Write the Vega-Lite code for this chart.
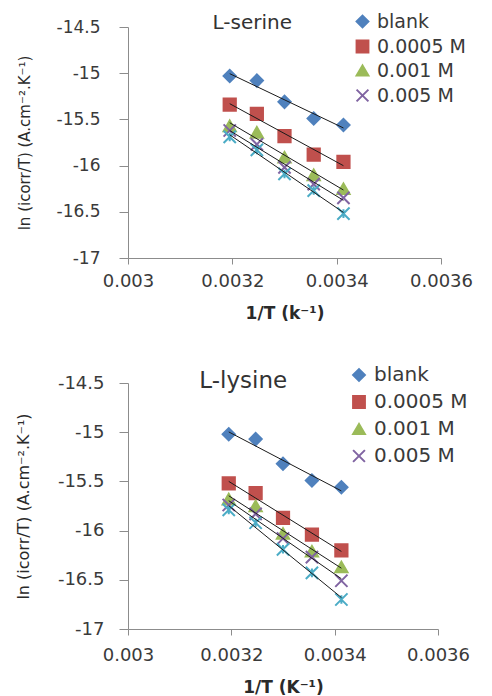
{
  "$schema": "https://vega.github.io/schema/vega-lite/v6.json",
  "padding": {"top": 12, "left": 14, "right": 5, "bottom": 0},
  "background": "white",
  "spacing": 44,
  "datasets": {
    "serine": [
      {"x": 0.003195, "y": -15.03, "s": "blank"},
      {"x": 0.003247, "y": -15.08, "s": "blank"},
      {"x": 0.0033, "y": -15.31, "s": "blank"},
      {"x": 0.003356, "y": -15.49, "s": "blank"},
      {"x": 0.003413, "y": -15.56, "s": "blank"},
      {"x": 0.003195, "y": -15.34, "s": "0.0005 M"},
      {"x": 0.003247, "y": -15.44, "s": "0.0005 M"},
      {"x": 0.0033, "y": -15.68, "s": "0.0005 M"},
      {"x": 0.003356, "y": -15.88, "s": "0.0005 M"},
      {"x": 0.003413, "y": -15.96, "s": "0.0005 M"},
      {"x": 0.003195, "y": -15.57, "s": "0.001 M"},
      {"x": 0.003247, "y": -15.64, "s": "0.001 M"},
      {"x": 0.0033, "y": -15.91, "s": "0.001 M"},
      {"x": 0.003356, "y": -16.1, "s": "0.001 M"},
      {"x": 0.003413, "y": -16.25, "s": "0.001 M"},
      {"x": 0.003195, "y": -15.62, "s": "0.005 M"},
      {"x": 0.003247, "y": -15.77, "s": "0.005 M"},
      {"x": 0.0033, "y": -16.02, "s": "0.005 M"},
      {"x": 0.003356, "y": -16.2, "s": "0.005 M"},
      {"x": 0.003413, "y": -16.35, "s": "0.005 M"},
      {"x": 0.003195, "y": -15.69, "s": "0.01 M"},
      {"x": 0.003247, "y": -15.83, "s": "0.01 M"},
      {"x": 0.0033, "y": -16.09, "s": "0.01 M"},
      {"x": 0.003356, "y": -16.27, "s": "0.01 M"},
      {"x": 0.003413, "y": -16.52, "s": "0.01 M"}
    ],
    "lysine": [
      {"x": 0.003195, "y": -15.02, "s": "blank"},
      {"x": 0.003247, "y": -15.07, "s": "blank"},
      {"x": 0.0033, "y": -15.32, "s": "blank"},
      {"x": 0.003356, "y": -15.49, "s": "blank"},
      {"x": 0.003413, "y": -15.56, "s": "blank"},
      {"x": 0.003195, "y": -15.52, "s": "0.0005 M"},
      {"x": 0.003247, "y": -15.62, "s": "0.0005 M"},
      {"x": 0.0033, "y": -15.87, "s": "0.0005 M"},
      {"x": 0.003356, "y": -16.04, "s": "0.0005 M"},
      {"x": 0.003413, "y": -16.2, "s": "0.0005 M"},
      {"x": 0.003195, "y": -15.68, "s": "0.001 M"},
      {"x": 0.003247, "y": -15.75, "s": "0.001 M"},
      {"x": 0.0033, "y": -16.03, "s": "0.001 M"},
      {"x": 0.003356, "y": -16.21, "s": "0.001 M"},
      {"x": 0.003413, "y": -16.37, "s": "0.001 M"},
      {"x": 0.003195, "y": -15.74, "s": "0.005 M"},
      {"x": 0.003247, "y": -15.83, "s": "0.005 M"},
      {"x": 0.0033, "y": -16.08, "s": "0.005 M"},
      {"x": 0.003356, "y": -16.27, "s": "0.005 M"},
      {"x": 0.003413, "y": -16.51, "s": "0.005 M"},
      {"x": 0.003195, "y": -15.79, "s": "0.01 M"},
      {"x": 0.003247, "y": -15.92, "s": "0.01 M"},
      {"x": 0.0033, "y": -16.19, "s": "0.01 M"},
      {"x": 0.003356, "y": -16.43, "s": "0.01 M"},
      {"x": 0.003413, "y": -16.7, "s": "0.01 M"}
    ]
  },
  "vconcat": [
    {
      "width": 313,
      "height": 231,
      "layer": [
        {
          "data": {"name": "serine"},
          "mark": {"type": "point", "filled": true, "size": 150, "strokeWidth": 2, "opacity": 1},
          "encoding": {
            "x": {"field": "x", "type": "quantitative", "title": "1/T (k⁻¹)",
              "scale": {"domain": [0.003, 0.0036], "nice": false, "zero": false},
              "axis": {"values": [0.003, 0.0032, 0.0034, 0.0036], "labelExpr": "toString(datum.value)", "grid": false, "tickSize": 6, "labelPadding": 8, "labelFontSize": 18, "titleFontSize": 17, "titleFontWeight": "bold", "titleY": 60, "titleBaseline": "alphabetic"}},
            "y": {"field": "y", "type": "quantitative", "title": "ln (icorr/T) (A.cm⁻².K⁻¹)",
              "scale": {"domain": [-17, -14.5], "nice": false, "zero": false},
              "axis": {"values": [-17, -16.5, -16, -15.5, -15, -14.5], "labelExpr": "toString(datum.value)", "grid": false, "tickSize": 9, "labelPadding": 19, "labelFontSize": 17, "titleFontSize": 15, "titleFontWeight": "normal", "titleX": -104, "titleBaseline": "middle"}},
            "shape": {"field": "s", "type": "nominal",
              "scale": {"domain": ["blank", "0.0005 M", "0.001 M", "0.005 M", "0.01 M"], "range": ["diamond", "square", "triangle-up", "M-1,-1L1,1M1,-1L-1,1", "M-1,-1L1,1M1,-1L-1,1M0,-0.7L0,0.7"]},
              "legend": {"orient": "none", "legendX": 225, "legendY": -15, "title": null, "values": ["blank", "0.0005 M", "0.001 M", "0.005 M"], "labelFontSize": 19, "symbolSize": 140, "rowPadding": 4, "labelOffset": 5, "symbolStrokeWidth": 2}},
            "fill": {"field": "s", "type": "nominal",
              "scale": {"domain": ["blank", "0.0005 M", "0.001 M", "0.005 M", "0.01 M"], "range": ["#4F81BD", "#C0504D", "#9BBB59", "#8064A2", "#4BACC6"]},
              "legend": {"orient": "none", "legendX": 225, "legendY": -15, "title": null, "values": ["blank", "0.0005 M", "0.001 M", "0.005 M"], "labelFontSize": 19, "symbolSize": 140, "rowPadding": 4, "labelOffset": 5, "symbolStrokeWidth": 2}},
            "stroke": {"field": "s", "type": "nominal",
              "scale": {"domain": ["blank", "0.0005 M", "0.001 M", "0.005 M", "0.01 M"], "range": ["#4F81BD", "#C0504D", "#9BBB59", "#8064A2", "#4BACC6"]},
              "legend": {"orient": "none", "legendX": 225, "legendY": -15, "title": null, "values": ["blank", "0.0005 M", "0.001 M", "0.005 M"], "labelFontSize": 19, "symbolSize": 140, "rowPadding": 4, "labelOffset": 5, "symbolStrokeWidth": 2}}
          }
        },
        {
          "data": {"name": "serine"},
          "transform": [{"regression": "y", "on": "x", "groupby": ["s"]}],
          "mark": {"type": "line", "color": "#1a1a1a", "strokeWidth": 1},
          "encoding": {
            "x": {"field": "x", "type": "quantitative", "title": "1/T (k⁻¹)"},
            "y": {"field": "y", "type": "quantitative", "title": "ln (icorr/T) (A.cm⁻².K⁻¹)"},
            "detail": {"field": "s", "type": "nominal"}
          }
        },
        {
          "data": {"values": [{"t": "L-serine"}]},
          "mark": {"type": "text", "align": "left", "baseline": "alphabetic", "fontSize": 20, "color": "#333333", "font": "DejaVu Sans"},
          "encoding": {
            "x": {"datum": 0.003162, "type": "quantitative", "title": "1/T (k⁻¹)"},
            "y": {"datum": -14.525, "type": "quantitative", "title": "ln (icorr/T) (A.cm⁻².K⁻¹)"},
            "text": {"field": "t", "type": "nominal"}
          }
        }
      ]
    },
    {
      "width": 310,
      "height": 246,
      "layer": [
        {
          "data": {"name": "lysine"},
          "mark": {"type": "point", "filled": true, "size": 150, "strokeWidth": 2, "opacity": 1},
          "encoding": {
            "x": {"field": "x", "type": "quantitative", "title": "1/T (K⁻¹)",
              "scale": {"domain": [0.003, 0.0036], "nice": false, "zero": false},
              "axis": {"values": [0.003, 0.0032, 0.0034, 0.0036], "labelExpr": "toString(datum.value)", "grid": false, "tickSize": 6, "labelPadding": 11, "labelFontSize": 18, "titleFontSize": 17, "titleFontWeight": "bold", "titleY": 63, "titleBaseline": "alphabetic"}},
            "y": {"field": "y", "type": "quantitative", "title": "ln (icorr/T) (A.cm⁻².K⁻¹)",
              "scale": {"domain": [-17, -14.5], "nice": false, "zero": false},
              "axis": {"values": [-17, -16.5, -16, -15.5, -15, -14.5], "labelExpr": "toString(datum.value)", "grid": false, "tickSize": 9, "labelPadding": 15, "labelFontSize": 18, "titleFontSize": 16, "titleFontWeight": "normal", "titleX": -105, "titleBaseline": "middle"}},
            "shape": {"field": "s", "type": "nominal",
              "scale": {"domain": ["blank", "0.0005 M", "0.001 M", "0.005 M", "0.01 M"], "range": ["diamond", "square", "triangle-up", "M-1,-1L1,1M1,-1L-1,1", "M-1,-1L1,1M1,-1L-1,1M0,-0.7L0,0.7"]},
              "legend": {"orient": "none", "legendX": 221, "legendY": -18, "title": null, "values": ["blank", "0.0005 M", "0.001 M", "0.005 M"], "labelFontSize": 20, "symbolSize": 140, "rowPadding": 7, "labelOffset": 5, "symbolStrokeWidth": 2}},
            "fill": {"field": "s", "type": "nominal",
              "scale": {"domain": ["blank", "0.0005 M", "0.001 M", "0.005 M", "0.01 M"], "range": ["#4F81BD", "#C0504D", "#9BBB59", "#8064A2", "#4BACC6"]},
              "legend": {"orient": "none", "legendX": 221, "legendY": -18, "title": null, "values": ["blank", "0.0005 M", "0.001 M", "0.005 M"], "labelFontSize": 20, "symbolSize": 140, "rowPadding": 7, "labelOffset": 5, "symbolStrokeWidth": 2}},
            "stroke": {"field": "s", "type": "nominal",
              "scale": {"domain": ["blank", "0.0005 M", "0.001 M", "0.005 M", "0.01 M"], "range": ["#4F81BD", "#C0504D", "#9BBB59", "#8064A2", "#4BACC6"]},
              "legend": {"orient": "none", "legendX": 221, "legendY": -18, "title": null, "values": ["blank", "0.0005 M", "0.001 M", "0.005 M"], "labelFontSize": 20, "symbolSize": 140, "rowPadding": 7, "labelOffset": 5, "symbolStrokeWidth": 2}}
          }
        },
        {
          "data": {"name": "lysine"},
          "transform": [{"regression": "y", "on": "x", "groupby": ["s"]}],
          "mark": {"type": "line", "color": "#1a1a1a", "strokeWidth": 1},
          "encoding": {
            "x": {"field": "x", "type": "quantitative", "title": "1/T (K⁻¹)"},
            "y": {"field": "y", "type": "quantitative", "title": "ln (icorr/T) (A.cm⁻².K⁻¹)"},
            "detail": {"field": "s", "type": "nominal"}
          }
        },
        {
          "data": {"values": [{"t": "L-lysine"}]},
          "mark": {"type": "text", "align": "left", "baseline": "alphabetic", "fontSize": 23, "color": "#333333", "font": "DejaVu Sans"},
          "encoding": {
            "x": {"datum": 0.003138, "type": "quantitative", "title": "1/T (K⁻¹)"},
            "y": {"datum": -14.55, "type": "quantitative", "title": "ln (icorr/T) (A.cm⁻².K⁻¹)"},
            "text": {"field": "t", "type": "nominal"}
          }
        }
      ]
    }
  ],
  "resolve": {
    "scale": {"shape": "independent", "fill": "independent", "stroke": "independent"},
    "legend": {"shape": "independent", "fill": "independent", "stroke": "independent"}
  },
  "config": {
    "view": {"stroke": null},
    "font": "DejaVu Sans",
    "axis": {"labelFont": "DejaVu Sans", "titleFont": "DejaVu Sans", "labelColor": "#3a3a3a", "titleColor": "#2a2a2a", "domainColor": "#8c8c8c", "tickColor": "#8c8c8c", "domainWidth": 1, "tickWidth": 1, "labelFlush": false, "labelOverlap": false},
    "legend": {"labelFont": "DejaVu Sans", "labelColor": "#3a3a3a", "padding": 0, "labelLimit": 200}
  }
}
